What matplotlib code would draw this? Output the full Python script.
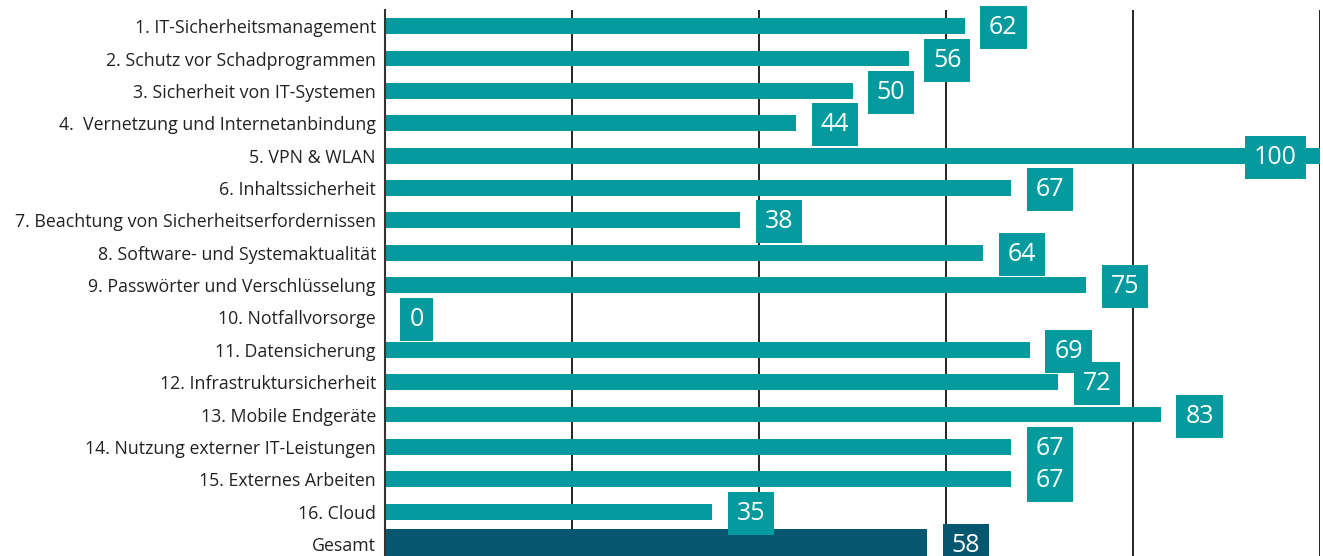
import numpy as np
import matplotlib.pyplot as plt

plt.rcParams['font.family'] = ['Open Sans', 'DejaVu Sans']

categories = [
    '1. IT-Sicherheitsmanagement',
    '2. Schutz vor Schadprogrammen',
    '3. Sicherheit von IT-Systemen',
    '4.  Vernetzung und Internetanbindung',
    '5. VPN & WLAN',
    '6. Inhaltssicherheit',
    '7. Beachtung von Sicherheitserfordernissen',
    '8. Software- und Systemaktualität',
    '9. Passwörter und Verschlüsselung',
    '10. Notfallvorsorge',
    '11. Datensicherung',
    '12. Infrastruktursicherheit',
    '13. Mobile Endgeräte',
    '14. Nutzung externer IT-Leistungen',
    '15. Externes Arbeiten',
    '16. Cloud',
    'Gesamt',
]
values = [62, 56, 50, 44, 100, 67, 38, 64, 75, 0, 69, 72, 83, 67, 67, 35, 58]

teal = '#049a9e'
dark = '#04576f'

fig = plt.figure(figsize=(13.23, 5.56), dpi=100)
ax = fig.add_axes([385 / 1323, 0.0, 935 / 1323, 1 - 10 / 556])

y = np.arange(len(categories))
colors = [teal] * (len(values) - 1) + [dark]
heights = [0.49] * (len(values) - 1) + [0.95]
ax.barh(y, values, height=heights, color=colors, zorder=2)

# value boxes sit a bit right of the bar end (inside for the full bar)
for yi, v, c in zip(y, values, colors):
    if v >= 95:
        x, ha = v - 2.5, 'right'
    else:
        x, ha = v + 2.6, 'left'
    ax.text(x, yi + 0.05, str(v), ha=ha, va='center', color='white', fontsize=18,
            zorder=4,
            bbox=dict(boxstyle='square,pad=0.36', fc=c, ec='none'))

ax.set_xlim(0, 100)
ax.set_ylim(16.37, -0.5)
ax.set_yticks(y)
ax.set_yticklabels(categories, fontsize=12.8, color='#222222')
ax.tick_params(axis='y', length=0, pad=6.5)
ax.set_xticks([])

for gx in [20, 40, 60, 80, 100]:
    ax.axvline(gx, color='black', lw=1.2, zorder=1)

for s in ['top', 'right', 'bottom']:
    ax.spines[s].set_visible(False)
ax.spines['left'].set_color('#333333')
ax.spines['left'].set_linewidth(1.5)

fig.savefig('out.png', dpi=100)
